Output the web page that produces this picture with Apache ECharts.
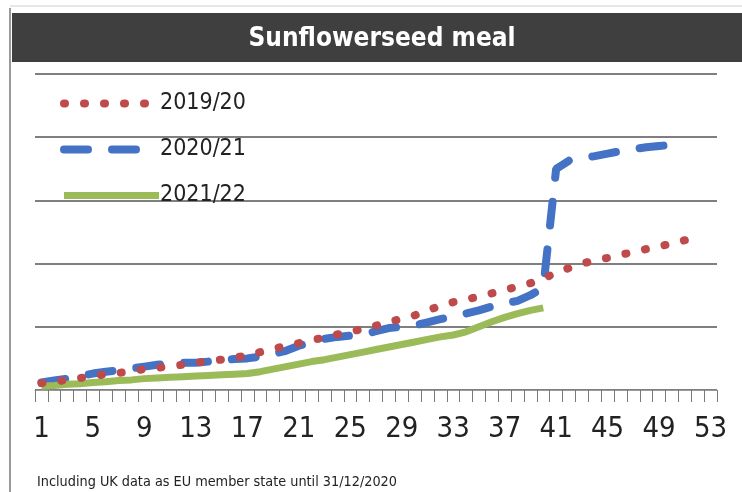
<!DOCTYPE html>
<html>
<head>
<meta charset="utf-8">
<title>Sunflowerseed meal</title>
<script src="https://cdn.jsdelivr.net/npm/echarts@6/dist/echarts.min.js"></script>
<style>
    html,body{margin:0;padding:0;background:#fff;}
    #chart1{width:742px;height:492px;}
</style>
</head>
<body>
<div id="chart1"></div>
<script>
// weeks 1..53
var weeks=[];
for(var w=1;w<=53;w++){weeks.push(String(w));}
var seriesNames=['2019/20','2020/21','2021/22'];
// cumulative values (1 unit = 1 gridline)
var data1920=[0.11,0.13,0.16,0.19,0.22,0.25,0.27,0.30,0.33,0.35,
    0.38,0.40,0.43,0.46,0.48,0.51,0.55,0.60,0.65,0.70,
    0.74,0.79,0.83,0.88,0.92,0.97,1.02,1.07,1.13,1.18,
    1.26,1.33,1.39,1.43,1.48,1.53,1.58,1.64,1.69,1.76,
    1.86,1.93,2.00,2.05,2.09,2.14,2.18,2.23,2.27,2.32,
    2.37];
var data2021=[0.12,0.15,0.18,0.22,0.26,0.29,0.31,0.34,0.37,0.40,
    0.42,0.43,0.43,0.45,0.47,0.49,0.50,0.53,0.57,0.62,
    0.70,0.76,0.81,0.84,0.86,0.88,0.93,0.98,1.00,1.02,
    1.07,1.12,1.17,1.21,1.26,1.32,1.37,1.41,1.50,1.62,
    3.50,3.63,3.67,3.70,3.74,3.78,3.81,3.84,3.86,3.88,
    3.90];
var data2122=[0.06,0.07,0.09,0.10,0.12,0.13,0.15,0.16,0.18,0.19,
    0.20,0.21,0.22,0.23,0.24,0.25,0.26,0.29,0.33,0.37,
    0.41,0.45,0.48,0.52,0.56,0.60,0.64,0.68,0.72,0.76,
    0.80,0.84,0.87,0.92,1.00,1.08,1.15,1.21,1.26,1.30];
var footNote='Including UK data as EU member state until 31/12/2020';

var narrowFont="'DejaVu Sans Condensed','Liberation Sans',sans-serif";
var dotStyle={width:8,type:[1,19],cap:'round'};
var dashStyle={width:8,type:[24,24],cap:'round'};
var solidStyle={width:7};

var chart1=echarts.init(document.getElementById('chart1'));
var option={
    animation:false,
    color:['#bf4a4c','#4472c4','#9bbb59'],
    title:{
        text:'Sunflowerseed meal',
        left:377,
        textAlign:'center',
        top:21,
        textStyle:{
            color:'#fff',
            fontSize:26,
            fontWeight:'bold',
            fontFamily:narrowFont
        }
    },
    graphic:[
        {   //外框
            type:'line',
            shape:{x1:10,y1:8,x2:10,y2:492},
            style:{stroke:'#9a9a9a',lineWidth:2},
            z:-1
        },
        {
            type:'line',
            shape:{x1:10,y1:6,x2:742,y2:6},
            style:{stroke:'#cfcfcf',lineWidth:1},
            z:-1
        },
        {   //标题栏
            type:'rect',
            shape:{x:12,y:13,width:730,height:49},
            style:{fill:'#3f3f3f'},
            z:-1
        },
        {
            type:'text',
            left:37,
            top:475,
            style:{
                text:footNote,
                fill:'#222',
                fontSize:14.3,
                fontFamily:narrowFont
            }
        }
    ],
    legend:{
        orient:'vertical',
        left:55,
        top:87,
        itemWidth:95,
        itemHeight:24,
        itemGap:23,
        data:[
            {name:seriesNames[0],lineStyle:dotStyle,itemStyle:{opacity:0}},
            {name:seriesNames[1],lineStyle:dashStyle,itemStyle:{opacity:0}},
            {name:seriesNames[2],lineStyle:solidStyle,itemStyle:{opacity:0}}
        ],
        textStyle:{
            fontSize:23,
            color:'#222',
            fontFamily:narrowFont,
            padding:[0,0,0,-4]
        }
    },
    grid:{
        left:35,
        right:25,
        top:74,
        bottom:102
    },
    xAxis:{
        type:'category',
        boundaryGap:true,
        data:weeks,
        axisLine:{lineStyle:{color:'#9a9a9a',width:1}},
        axisTick:{
            show:true,
            interval:0,
            length:12,
            lineStyle:{color:'#7a7a7a',width:1}
        },
        axisLabel:{
            interval:3,
            margin:25,
            fontSize:29,
            color:'#222',
            fontFamily:narrowFont
        }
    },
    yAxis:{
        type:'value',
        min:0,
        max:5,
        interval:1,
        axisLabel:{show:false},
        axisLine:{show:false},
        axisTick:{show:false},
        splitLine:{lineStyle:{color:'#7f7f7f',width:2}}
    },
    series:[
        {
            name:seriesNames[0],
            type:'line',
            symbol:'none',
            data:data1920,
            lineStyle:dotStyle,
            z:3
        },
        {
            name:seriesNames[1],
            type:'line',
            symbol:'none',
            data:data2021,
            lineStyle:dashStyle,
            z:2
        },
        {
            name:seriesNames[2],
            type:'line',
            symbol:'none',
            data:data2122,
            lineStyle:solidStyle,
            z:2
        }
    ]
};
chart1.setOption(option);
</script>
</body>
</html>
